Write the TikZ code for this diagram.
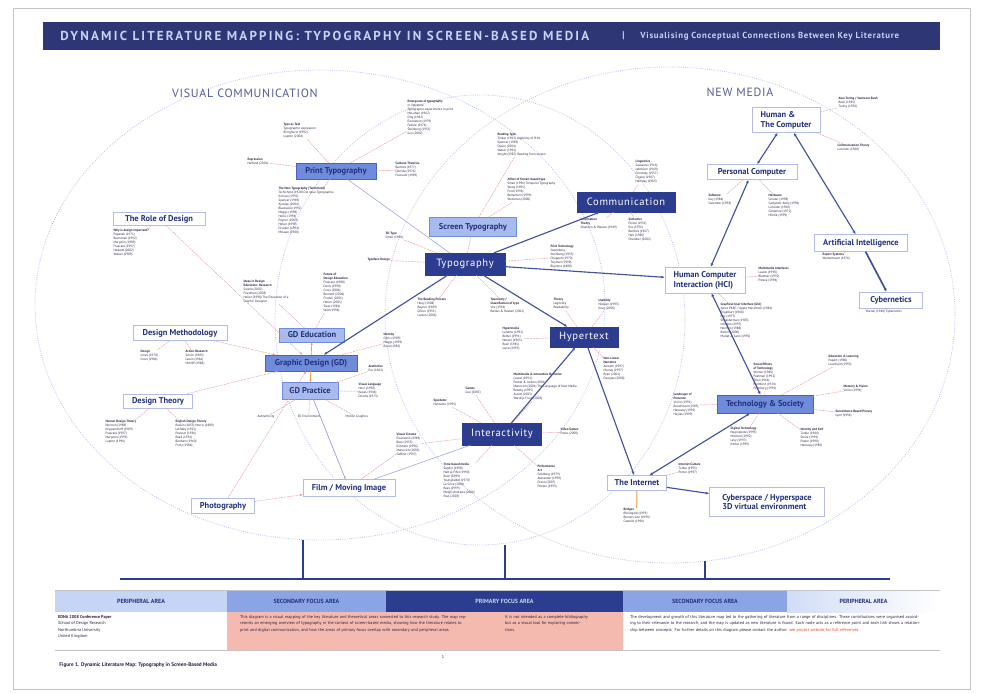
\documentclass[tikz,border=0pt]{standalone}
\usepackage{fontspec}
\setmainfont{PT Sans}
\newfontfamily\titlefont[LetterSpace=17]{PT Sans}
\newfontfamily\subfont[LetterSpace=8]{PT Sans}
\newfontfamily\spacedfont[LetterSpace=6]{PT Sans}
\usetikzlibrary{arrows.meta,positioning}
\definecolor{ink}{HTML}{24317A}
\definecolor{litink}{HTML}{2B2340}
\definecolor{navyd}{HTML}{2C3C8E}
\definecolor{titlebar}{HTML}{2F3675}
\definecolor{titlepale}{HTML}{C9D2F2}
\definecolor{bluemid}{HTML}{6E8CDB}
\definecolor{bluedraw}{HTML}{4A63B5}
\definecolor{bluepale}{HTML}{A7BBEF}
\definecolor{outline}{HTML}{B3BCE2}
\definecolor{pinkln}{HTML}{E79AA6}
\definecolor{orangeln}{HTML}{EE9A3A}
\definecolor{thinblue}{HTML}{8D9CDB}
\definecolor{ringc}{HTML}{B5C0EC}
\definecolor{bandlight}{HTML}{C6D4F5}
\definecolor{bandmid}{HTML}{8BA4E6}
\definecolor{salmon}{HTML}{F4B9AF}
\definecolor{framegray}{HTML}{C4C4C8}
\definecolor{sectionc}{HTML}{545D8E}
\definecolor{linkred}{HTML}{E0442A}
\tikzset{
  mainbox/.style={draw=navyd,fill=navyd,text=white,inner sep=2pt,font=\spacedfont\fontsize{15}{17}\selectfont},
  bluebox/.style={draw=bluedraw,fill=bluemid,text=ink,inner sep=2pt,font=\bfseries\fontsize{12}{14}\selectfont},
  palebox/.style={bluebox,draw=bluemid,fill=bluepale},
  outbox/.style={draw=outline,fill=white,text=ink,inner sep=2pt,align=left,font=\bfseries\fontsize{12}{14}\selectfont},
  lit/.style={align=left,inner sep=0.6pt,text=litink,font=\fontsize{4.6}{5.7}\selectfont},
  navyarrow/.style={-{Latex[length=5pt,width=4pt]},line width=1.6pt,draw=navyd!90},
  twoway/.style={navyarrow,arrows={Latex[length=5pt,width=4pt]-Latex[length=5pt,width=4pt]}},
  pinkline/.style={draw=pinkln,line width=0.6pt,dash pattern=on 3pt off 1.2pt},
  pinkarrow/.style={pinkline,-{Latex[length=4pt]}},
  thinline/.style={draw=thinblue,line width=0.7pt},
  ring/.style={draw=ringc,line width=1.1pt,dotted},
  bus/.style={draw=navyd,line width=2pt},
  bandcell/.style={minimum height=1.1cm,inner sep=0,font=\bfseries\fontsize{8.5}{10}\selectfont},
  notecell/.style={minimum height=1.9cm,inner sep=0},
  note/.style={align=left,inner sep=0,text=litink,font=\fontsize{6}{9.4}\selectfont}
}
\begin{document}
\begin{tikzpicture}[x=0.05cm,y=-0.05cm]
\useasboundingbox (0,0) rectangle (982,694);
\fill[white] (0,0) rectangle (982,694);
\draw[framegray,line width=0.8pt] (13,8) rectangle (970,689);

% overlapping fields
\draw[ring] (320,305) ellipse [x radius=14.25cm,y radius=11.75cm];
\draw[ring] (670,315) ellipse [x radius=14.25cm,y radius=12.4cm];
\draw[ring] (480,320) ellipse [x radius=10.25cm,y radius=11.25cm];

% title bar
\node[fill=titlebar,minimum width=44.85cm,minimum height=1.4cm,inner sep=0] (bar) at (491.5,36) {};
\node[anchor=west,text=titlepale,font=\titlefont\bfseries\fontsize{18.5}{20}\selectfont] (title) at (58,36) {DYNAMIC LITERATURE MAPPING: TYPOGRAPHY IN SCREEN-BASED MEDIA};
\node[anchor=west,text=titlepale,font=\bfseries\fontsize{14}{15}\selectfont] (sep) at (620,36) {|};
\node[anchor=west,text=titlepale,font=\subfont\bfseries\fontsize{12.5}{14}\selectfont] (subtitle) at (638,36) {Visualising Conceptual Connections Between Key Literature};

\node[text=sectionc,font=\spacedfont\fontsize{17}{19}\selectfont] (viscom) at (245,93) {VISUAL COMMUNICATION};
\node[text=sectionc,font=\spacedfont\fontsize{17}{19}\selectfont] (newmedia) at (740,92) {NEW MEDIA};

% key areas
\node[mainbox,minimum width=4.9cm,minimum height=1cm] (comm) at (626,202) {Communication};
\node[mainbox,minimum width=4cm,minimum height=1.1cm] (typo) at (465,264) {Typography};
\node[mainbox,minimum width=3.4cm,minimum height=1cm] (hyper) at (584,337) {Hypertext};
\node[mainbox,minimum width=3.95cm,minimum height=1.1cm] (inter) at (502,434) {Interactivity};
\node[bluebox,minimum width=4cm,minimum height=0.8cm] (printt) at (336,171) {Print Typography};
\node[palebox,minimum width=4.35cm,minimum height=0.95cm] (screent) at (473,227) {Screen Typography};
\node[bluebox,minimum width=4.6cm,minimum height=0.8cm] (gd) at (311,363) {Graphic Design (GD)};
\node[palebox,minimum width=3.25cm,minimum height=0.7cm] (gded) at (312,335) {GD Education};
\node[palebox,minimum width=2.8cm,minimum height=0.85cm] (gdpr) at (310,391) {GD Practice};
\node[bluebox,minimum width=4.8cm,minimum height=0.9cm] (techsoc) at (765,404) {Technology \& Society};
\node[outbox,minimum width=4.6cm,minimum height=0.65cm] (roled) at (159,219) {The Role of Design};
\node[outbox,minimum width=4.7cm,minimum height=0.75cm] (desmeth) at (180,333) {Design Methodology};
\node[outbox,minimum width=3.45cm,minimum height=0.7cm] (desthe) at (158,401) {Design Theory};
\node[outbox,minimum width=3.15cm,minimum height=0.75cm] (photo) at (223,506) {Photography};
\node[outbox,minimum width=4.6cm,minimum height=0.85cm] (film) at (349,488) {Film / Moving Image};
\node[outbox,minimum width=3.4cm,minimum height=1.25cm] (humcomp) at (786,120) {Human \&\\The Computer};
\node[outbox,minimum width=4.5cm,minimum height=0.75cm] (pc) at (752,172) {Personal Computer};
\node[outbox,minimum width=4.65cm,minimum height=0.85cm] (ai) at (861,243) {Artificial Intelligence};
\node[outbox,minimum width=3.15cm,minimum height=0.8cm] (cyber) at (891,300) {Cybernetics};
\node[outbox,minimum width=4cm,minimum height=1.3cm] (hci) at (705,280) {Human Computer\\Interaction (HCI)};
\node[outbox,minimum width=2.95cm,minimum height=0.75cm] (internet) at (637,483) {The Internet};
\node[outbox,minimum width=5.75cm,minimum height=1.45cm] (cyberspace) at (767,502) {Cyberspace / Hyperspace\\3D virtual environment};

% literature around print and screen type
\node[lit,anchor=north west] (typetext) at (283,123) {\textbf{Type as Text}\\Typographic expression\\Bringhurst (1992)\\Lupton (2004)};
\node[lit,anchor=north west] (express) at (247,158) {\textbf{Expression}\\Helfand (2001)};
\node[lit,anchor=north west] (newtypo) at (278,187) {\textbf{The New Typography (Tschichold)}\\Tschichold (1928) Die neue Typographie\\Kinross (1992)\\Spencer (1969)\\Aynsley (2004)\\Blackwell (1992)\\Meggs (1998)\\Hollis (1994)\\Poynor (2003)\\Heller (1999)\\Drucker (1994)\\McLean (1980)};
\node[lit,anchor=north west] (emerge) at (407,100) {\textbf{Emergence of typography}\\in literature\\Typographic experiments in print\\McLuhan (1962)\\Ong (1982)\\Eisenstein (1979)\\Febvre (1976)\\Steinberg (1955)\\Jury (2002)};
\node[lit,anchor=north west] (cultural) at (395,162) {\textbf{Cultural Theories}\\Barthes (1977)\\Derrida (1976)\\Foucault (1969)};
\node[lit,anchor=north west] (readtype) at (497,133) {\textbf{Reading Type}\\Tinker (1963) Legibility of Print\\Spencer (1969)\\Dyson (2004)\\Waller (1991)\\Wright (1987) Reading from screen};
\node[lit,anchor=north west] (affect) at (507,178) {\textbf{Affect of Screen-based type}\\Small (1996) Temporal Typography\\Wong (1995)\\Ford (1996)\\Bellantoni (1999)\\Woolman (2000)};
\node[lit,anchor=north west] (type3d) at (385,232) {\textbf{3D Type}\\Small (1996)};
\node[lit,anchor=north west] (typeface) at (367,258) {\textbf{Typeface Design}};
\node[lit,anchor=north west] (linguist) at (635,160) {\textbf{Linguistics}\\Saussure (1916)\\Jakobson (1960)\\Chomsky (1957)\\Crystal (1987)\\Halliday (1985)};
\node[lit,anchor=north west] (infotheory) at (580,218) {\textbf{Information}\\\textbf{Theory}\\Shannon \& Weaver (1949)};
\node[lit,anchor=north west] (semiotic) at (628,218) {\textbf{Semiotics}\\Peirce (1931)\\Eco (1976)\\Barthes (1967)\\Hall (1980)\\Chandler (2002)};
\node[lit,anchor=north west] (printtech) at (550,245) {\textbf{Print Technology}\\Gutenberg\\Steinberg (1955)\\Chappell (1970)\\Twyman (1998)\\Bigmore (1880)};
\node[lit,anchor=north west] (readproc) at (417,298) {\textbf{The Reading Process}\\Huey (1908)\\Rayner (1989)\\Dillon (1992)\\Larson (2004)};
\node[lit,anchor=north west] (taxonomy) at (490,298) {\textbf{Taxonomy /}\\\textbf{Classification of type}\\Vox (1954)\\Baines \& Haslam (2002)};
\node[lit,anchor=north west] (theory) at (553,298) {\textbf{Theory}\\Legibility\\Readability};
\node[lit,anchor=north west] (usability) at (598,299) {\textbf{Usability}\\Nielsen (1993)\\Krug (2000)};
\node[lit,anchor=north west] (hypermed) at (502,327) {\textbf{Hypermedia}\\Landow (1992)\\Bolter (1991)\\Nelson (1965)\\Bush (1945)\\Joyce (1995)};
\node[lit,anchor=north west] (nonlinear) at (603,357) {\textbf{Non-Linear}\\\textbf{Narrative}\\Aarseth (1997)\\Murray (1997)\\Ryan (2001)\\Douglas (2000)};
\node[lit,anchor=north west] (multimed) at (513,373) {\textbf{Multimedia \& Interactive Narrative}\\Laurel (1991)\\Packer \& Jordan (2001)\\Manovich (2001) The Language of New Media\\Rokeby (1995)\\Ascott (2003)\\Wardrip-Fruin (2003)};
\node[lit,anchor=north west] (games) at (465,387) {\textbf{Games}\\Juul (2005)};
\node[lit,anchor=north west] (spectator) at (433,399) {\textbf{Spectator}\\Huhtamo (1995)};
\node[lit,anchor=north west] (videogame) at (560,428) {\textbf{Video Games}\\Poole (2000)};
\node[lit,anchor=north west] (vcinema) at (396,433) {\textbf{Visual Cinema}\\Eisenstein (1949)\\Bass (1955)\\Kirkham (1996)\\Manovich (2001)\\Geffner (1997)};
\node[lit,anchor=north west] (timebased) at (443,463) {\textbf{Time-based media}\\Sandin (1998)\\Hall \& Fifer (1990)\\Rush (1999)\\Youngblood (1970)\\Le Grice (2001)\\Rees (1999)\\Meigh-Andrews (2006)\\Paul (2003)};
\node[lit,anchor=north west] (perform) at (537,465) {\textbf{Performance}\\\textbf{Art}\\Goldberg (1979)\\Auslander (1999)\\Dixon (2007)\\Phelan (1993)};
\node[lit,anchor=north west] (bridges) at (623,508) {\textbf{Bridges}\\Rheingold (1993)\\Berners-Lee (1999)\\Castells (1996)};

% literature around new media
\node[lit,anchor=north west] (internetc) at (678,463) {\textbf{Internet Culture}\\Turkle (1995)\\Porter (1997)};
\node[lit,anchor=north west] (landscape) at (673,393) {\textbf{Landscape of}\\\textbf{Presence}\\Virilio (1991)\\Baudrillard (1983)\\Haraway (1991)\\Hayles (1999)};
\node[lit,anchor=north west] (social) at (753,363) {\textbf{Social Effects}\\\textbf{of Technology}\\Winner (1986)\\Postman (1992)\\Ellul (1964)\\Mumford (1934)\\Feenberg (1991)};
\node[lit,anchor=north west] (edu) at (828,355) {\textbf{Education \& Learning}\\Papert (1980)\\Laurillard (1993)};
\node[lit,anchor=north west] (memory) at (843,385) {\textbf{Memory \& Vision}\\Virilio (1994)};
\node[lit,anchor=north west] (surveil) at (835,410) {\textbf{Surveillance Based Privacy}\\Lyon (1994)};
\node[lit,anchor=north west] (digitech) at (730,427) {\textbf{Digital Technology}\\Negroponte (1995)\\Mitchell (1992)\\L\'evy (1997)\\Kittler (1999)};
\node[lit,anchor=north west] (identity) at (800,428) {\textbf{Identity and Self}\\Turkle (1984)\\Stone (1995)\\Poster (1990)\\Haraway (1985)};
\node[lit,anchor=north west] (gui) at (720,303) {\textbf{Graphical User Interface (GUI)}\\Xerox PARC / Apple Macintosh (1984)\\Engelbart (1968)\\Kay (1977)\\Shneiderman (1983)\\Johnson (1997)\\Norman (1988)\\Raskin (2000)\\Mullet \& Sano (1995)};
\node[lit,anchor=north west] (mminterface) at (758,267) {\textbf{Multimedia Interfaces}\\Laurel (1990)\\Blattner (1992)\\Preece (1994)};
\node[lit,anchor=north west] (software) at (708,194) {\textbf{Software}\\Kay (1984)\\Gelernter (1998)};
\node[lit,anchor=north west] (hardware) at (768,194) {\textbf{Hardware}\\Ceruzzi (1998)\\Campbell-Kelly (1996)\\Licklider (1960)\\Goldstine (1972)\\Hiltzik (1999)};
\node[lit,anchor=north west] (turing) at (838,97) {\textbf{Alan Turing / Vannevar Bush}\\Bush (1945)\\Turing (1950)};
\node[lit,anchor=north west] (commtheory) at (837,144) {\textbf{Communication Theory}\\Licklider (1968)};
\node[lit,anchor=north west] (expert) at (822,253) {\textbf{Expert Systems}\\Weizenbaum (1976)};
\node[lit,anchor=north west] (cyberref) at (865,310) {Wiener (1948) Cybernetics};

% literature around graphic design
\node[lit,anchor=north west] (roleref) at (113,229) {\textbf{Why is design important?}\\Papanek (1971)\\Buchanan (1992)\\Margolin (1989)\\Frascara (1997)\\Heskett (2002)\\Walker (1989)};
\node[lit,anchor=north west] (ideased) at (243,280) {\textbf{Ideas in Design}\\\textbf{Education: Research}\\Swann (2002)\\Friedman (2003)\\Heller (1998) The Education of a\\Graphic Designer};
\node[lit,anchor=north west] (futureed) at (323,273) {\textbf{Future of}\\\textbf{Design Education}\\Frascara (1988)\\Davis (1998)\\Cross (2006)\\Bennett (2006)\\Findeli (2001)\\Heller (2005)\\Sless (1981)\\Wild (1998)};
\node[lit,anchor=north west] (identref) at (383,333) {\textbf{Identity}\\Olins (1989)\\Meggs (1992)\\Rand (1985)};
\node[lit,anchor=north west] (aesthetic) at (368,365) {\textbf{Aesthetics}\\Eco (1962)};
\node[lit,anchor=north west] (vislang) at (358,383) {\textbf{Visual Language}\\Horn (1998)\\Kepes (1944)\\Dondis (1973)};
\node[lit,anchor=north west] (designref) at (140,350) {\textbf{Design}\\Jones (1970)\\Cross (1984)};
\node[lit,anchor=north west] (actionres) at (185,350) {\textbf{Action Research}\\Sch\"on (1983)\\Lewin (1946)\\McNiff (1988)};
\node[lit,anchor=north west] (humandt) at (105,420) {\textbf{Human Design Theory}\\Norman (1988)\\Krippendorff (1989)\\Frascara (1997)\\Margolin (1995)\\Lupton (1996)};
\node[lit,anchor=north west] (englishdt) at (175,420) {\textbf{English Design Theory}\\Ruskin (1853) Morris (1889)\\Lethaby (1922)\\Pevsner (1936)\\Read (1934)\\Banham (1960)\\Forty (1986)};
\node[lit,anchor=north west] (authentic) at (257,415) {Authenticity};
\node[lit,anchor=north west] (env3d) at (297,415) {3D Environment};
\node[lit,anchor=north west] (motiongr) at (345,415) {Motion Graphics};

% literature links
\foreach \b in {typetext,express,newtypo,emerge,cultural} \draw[pinkline] (printt) -- (\b);
\foreach \b in {readtype,affect} \draw[pinkline] (screent) -- (\b);
\foreach \b in {type3d,typeface,readproc,taxonomy,printtech} \draw[pinkline] (typo) -- (\b);
\foreach \b in {linguist,infotheory,semiotic} \draw[pinkline] (comm) -- (\b);
\foreach \b in {theory,usability,hypermed,nonlinear} \draw[pinkline] (hyper) -- (\b);
\foreach \b in {multimed,games,spectator,videogame,vcinema,timebased,perform} \draw[pinkline] (inter) -- (\b);
\foreach \b in {landscape,social,edu,memory,surveil,digitech,identity} \draw[pinkline] (techsoc) -- (\b);
\foreach \b in {gui,mminterface} \draw[pinkline] (hci) -- (\b);
\foreach \b in {software,hardware} \draw[pinkline] (pc) -- (\b);
\foreach \b in {turing,commtheory} \draw[pinkline] (humcomp) -- (\b);
\foreach \b in {ideased,futureed} \draw[pinkline] (gded) -- (\b);
\foreach \b in {aesthetic,vislang,authentic,env3d,motiongr} \draw[pinkline] (gdpr) -- (\b);
\foreach \b in {designref,actionres} \draw[pinkline] (desmeth) -- (\b);
\foreach \b in {humandt,englishdt} \draw[pinkline] (desthe) -- (\b);
\draw[pinkline] (internet) -- (internetc);
\draw[pinkline] (ai) -- (expert);
\draw[pinkline] (cyber) -- (cyberref);
\draw[pinkline] (roled) -- (roleref);
\draw[pinkline] (gd) -- (identref);
\draw[pinkline] (film) -- (vcinema);
\draw[pinkline] (screent) -- (typo);
\foreach \b in {roled,desmeth,desthe,photo} \draw[pinkarrow] (\b) -- (gd);
\draw[pinkarrow] (photo) -- (film);
\draw[pinkarrow] (gdpr) -- (film);
\draw[draw=orangeln,line width=0.9pt,-{Latex[length=4pt]}] (gd) -- (gded);
\draw[draw=orangeln,line width=0.9pt,-{Latex[length=4pt]}] (gd) -- (gdpr);
\draw[draw=orangeln,line width=1.4pt] (internet) -- (bridges);

% thin links
\draw[thinline] (printt) -- (typo);
\draw[thinline] (gdpr) -- (film);
\draw[thinline] (film) -- (inter);

% key connections
\draw[navyarrow] (typo) -- (comm);
\draw[navyarrow] (typo) -- (gd);
\draw[navyarrow] (typo) -- (hci);
\draw[navyarrow] (typo) -- (hyper);
\draw[navyarrow] (inter) -- (hyper);
\draw[navyarrow] (hyper) -- (internet);
\draw[twoway] (techsoc) -- (internet);
\draw[twoway] (hci) -- (techsoc);
\draw[twoway] (pc) -- (hci);
\draw[twoway] (humcomp) -- (pc);
\draw[twoway] (humcomp) -- (ai);
\draw[navyarrow,line width=2.4pt] (ai) -- (cyber);
\draw[navyarrow] (internet) -- (cyberspace);

% focus bus
\coordinate (busl) at (120,579);
\coordinate (busr) at (890,579);
\coordinate (vta) at (303,540);
\coordinate (vba) at (303,579);
\coordinate (vtb) at (505,545);
\coordinate (vbb) at (505,579);
\coordinate (vtc) at (705,561);
\coordinate (vbc) at (705,579);
\draw[bus] (busl) -- (busr);
\draw[bus] (vta) -- (vba);
\draw[bus] (vtb) -- (vbb);
\draw[bus] (vtc) -- (vbc);

% focus bands
\node[bandcell,fill=bandlight,text=ink,minimum width=8.6cm] (perl) at (141,601) {PERIPHERAL AREA};
\node[bandcell,fill=bandmid,text=ink,minimum width=7.95cm] (secl) at (306.5,601) {SECONDARY FOCUS AREA};
\node[bandcell,fill=navyd,text=titlepale,minimum width=11.85cm] (prim) at (504.5,601) {PRIMARY FOCUS AREA};
\node[bandcell,fill=bandmid,text=ink,minimum width=8.2cm] (secr) at (705,601) {SECONDARY FOCUS AREA};
\node[bandcell,left color=bandlight!80,right color=white,text=ink,minimum width=7.65cm] (perr) at (863.5,601) {PERIPHERAL AREA};
\node[notecell,fill=salmon,minimum width=19.8cm] (pinkcell) at (425,631) {};
\draw[framegray,line width=0.6pt] (55,590) -- (940,590);
\draw[framegray,line width=0.6pt] (55,650) -- (940,650);

\node[note,anchor=north west] (leftnote) at (58,615) {\textbf{EDNA 2008 Conference Paper}\\School of Design Research\\Northumbria University\\United Kingdom};
\node[note,anchor=north west,text width=11.4cm] (midnote) at (240,615) {This diagram is a visual mapping of the key literature and theoretical areas connected to this research study. The map represents an emerging overview of typography in the context of screen-based media, showing how the literature relates to print and digital communication, and how the areas of primary focus overlap with secondary and peripheral areas.};
\node[note,anchor=north west,text width=4.2cm] (midnote2) at (505,615) {It is not intended as a complete bibliography but as a visual tool for exploring connections.};
\node[note,anchor=north west,text width=14.6cm] (rightnote) at (630,615) {The development and growth of this literature map led to the gathering of literature from a range of disciplines. These contributions were organised according to their relevance to the research, and the map is updated as new literature is found. Each node acts as a reference point and each link shows a relationship between concepts. For further details on this diagram please contact the author: \textcolor{linkred}{see project website for full references}};

\node[anchor=west,text=litink,font=\bfseries\fontsize{7.5}{9}\selectfont] (caption) at (57,665) {Figure 1. Dynamic Literature Map: Typography in Screen-Based Media};
\node[text=litink,font=\fontsize{6}{7}\selectfont] (pageno) at (443,657) {1};
\end{tikzpicture}
\end{document}
